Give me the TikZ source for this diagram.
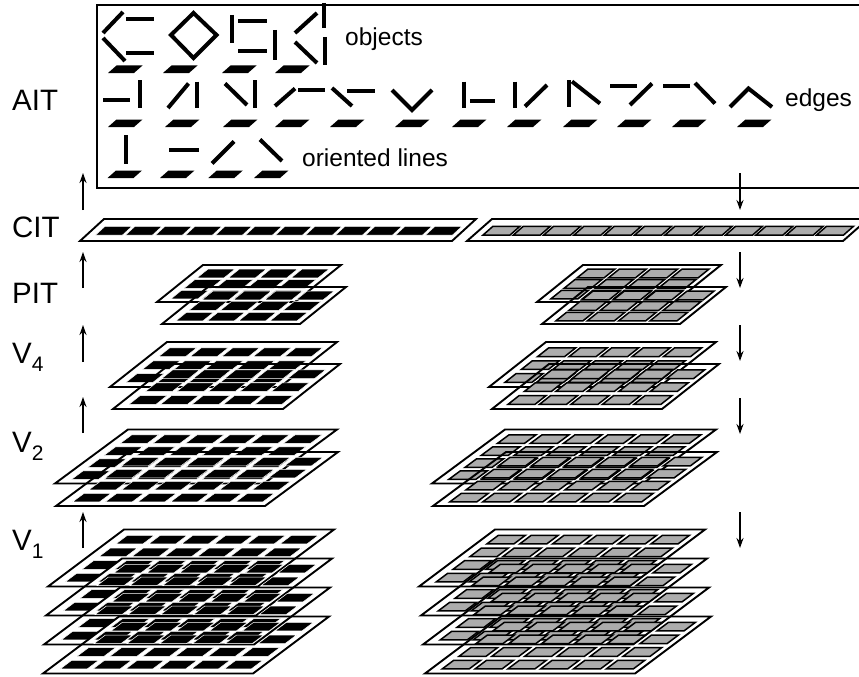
\documentclass[tikz,border=0pt]{standalone}
\usepackage{fontspec}
\setmainfont{Liberation Sans}
\usetikzlibrary{arrows.meta}
\definecolor{cellgray}{RGB}{172,172,172}
\tikzset{
  sheetline/.style={line width=1.9pt, line join=miter},
  blackcell/.style={fill=black, draw=white, line width=0.5pt},
  graycell/.style={fill=cellgray, draw=black, line width=1.5pt},
  aitline/.style={line width=4pt},
  aitcell/.style={fill=black},
  flowarrow/.style={line width=2pt, -{Stealth[length=10pt,width=7pt]}},
  lbl/.style={font=\fontsize{29.5}{31}\selectfont, anchor=base west, inner sep=0pt},
  smalllbl/.style={font=\fontsize{24.5}{26}\selectfont, anchor=base west, inner sep=0pt},
  aitbox/.style={draw, line width=1.7pt},
}
% #1 x0, #2 y0 (bottom-left), #3 W, #4 H, #5 skew, #6 rows, #7 cols, #8 cell style
\newcommand{\drawsheet}[8]{%
  \draw[sheetline] (#1,#2) -- ++(#3,0) -- ++(#5,-#4) -- ++(-#3,0) -- cycle;
  \foreach \jj in {1,...,#6}{
    \foreach \ii in {1,...,#7}{
      \pgfmathsetmacro{\vc}{(\jj-1+0.8)*#4/(#6+0.5)}
      \pgfmathsetmacro{\yc}{#2-#4+\vc}
      \pgfmathsetmacro{\xl}{#1+#5*(#4-\vc)/#4}
      \pgfmathsetmacro{\xc}{\xl+(\ii-1+0.75)*#3/(#7+0.4)}
      \pgfmathsetmacro{\cs}{8.6*#5/#4}
      \path[#8] (\xc-13.5-\cs/2,\yc+4.3) -- ++(27,0) -- ++(\cs,-8.6) -- ++(-27,0) -- cycle;
    }
  }
}
% small black cell of the AIT box, bottom-left x, bottom y
\newcommand{\aitcellat}[2]{%
  \path[aitcell] (#1,#2) -- ++(26,0) -- ++(8.5,-7.5) -- ++(-26,0) -- cycle;
}
\begin{document}
\begin{tikzpicture}[x=1pt,y=-1pt]
\useasboundingbox (0,0) rectangle (859,677);

% ---------- AIT box ----------
\draw[aitbox] (880,5) -- (97,5) -- (97,188) -- (880,188);

% objects
\draw[aitline] (103,33) -- (123,12);
\draw[aitline] (126,19) -- (154,19);
\draw[aitline] (103,38) -- (125,61);
\draw[aitline] (126,53) -- (154,53);
\draw[aitline] (171,35) -- (193.5,13) -- (216.5,35) -- (193.5,58) -- cycle;
\draw[aitline] (232,15) -- (232,43);
\draw[aitline] (238,21) -- (267,21);
\draw[aitline] (238,51) -- (267,51);
\draw[aitline] (275,30) -- (275,60);
\draw[aitline] (295,33) -- (317,13);
\draw[aitline] (323.5,3) -- (323.5,28);
\draw[aitline] (295,42) -- (317,63);
\draw[aitline] (325,37) -- (325,65);
\foreach \x in {108,163,222,275} { \aitcellat{\x}{73} }
\node[smalllbl] (objects) at (345,45.5) {objects};

% edges
\draw[aitline] (103,99.5) -- (130,99.5);
\draw[aitline] (140,80) -- (140,108);
\draw[aitline] (168,108) -- (188.5,83.5);
\draw[aitline] (197,81.5) -- (197,108);
\draw[aitline] (225,83.5) -- (247,105);
\draw[aitline] (254.5,80) -- (254.5,108);
\draw[aitline] (275,106) -- (295,88.5);
\draw[aitline] (298,90) -- (325,90);
\draw[aitline] (332,88) -- (352,106);
\draw[aitline] (347,90.5) -- (375,90.5);
\draw[aitline] (392,90) -- (412,110) -- (432,90);
\draw[aitline] (463.5,81.5) -- (463.5,108);
\draw[aitline] (470,100.5) -- (495,100.5);
\draw[aitline] (515,81.5) -- (515,108);
\draw[aitline] (525,106.5) -- (547,85);
\draw[aitline] (568.5,80) -- (568.5,106.5);
\draw[aitline] (572,81.5) -- (600,103.5);
\draw[aitline] (610,86) -- (637,86);
\draw[aitline] (630,105) -- (652,83.5);
\draw[aitline] (663,86) -- (690,86);
\draw[aitline] (695,83) -- (715,103.5);
\draw[aitline] (730,107) -- (748.5,88.5) -- (772,107);
\foreach \x in {108,165,223,275,330,395,452,507,563,617,672,737} { \aitcellat{\x}{127} }
\node[smalllbl] (edges) at (785,106) {edges};

% oriented lines
\draw[aitline] (126,135) -- (126,163.5);
\draw[aitline] (169,149.5) -- (198.5,149.5);
\draw[aitline] (212,163.5) -- (234,141.5);
\draw[aitline] (260,139.5) -- (282,161);
\foreach \x in {107.5,160,208.3,254} { \aitcellat{\x}{178} }
\node[smalllbl] (oriented) at (302,166) {oriented lines};

% ---------- labels ----------
\node[lbl] (lAIT) at (12,110) {AIT};
\node[lbl] (lCIT) at (12,237) {CIT};
\node[lbl] (lPIT) at (12,303) {PIT};
\node[lbl] (lV4) at (12,363) {V\raisebox{-8pt}{\fontsize{21}{21}\selectfont 4}};
\node[lbl] (lV2) at (12,452) {V\raisebox{-8pt}{\fontsize{21}{21}\selectfont 2}};
\node[lbl] (lV1) at (12,550) {V\raisebox{-8pt}{\fontsize{21}{21}\selectfont 1}};

% ---------- arrows ----------
\foreach \k/\a/\b in {1/210/173, 2/288/252, 3/362/325, 4/433/397, 5/548/512} {
  \coordinate (up\k s) at (83,\a);
  \coordinate (up\k e) at (83,\b);
  \draw[flowarrow] (up\k s) -- (up\k e);
}
\foreach \k/\a/\b in {1/173/210, 2/252/288, 3/325/361, 4/398/434, 5/512/548} {
  \coordinate (dn\k s) at (740,\a);
  \coordinate (dn\k e) at (740,\b);
  \draw[flowarrow] (dn\k s) -- (dn\k e);
}

% ---------- CIT ----------
\drawsheet{80}{241}{372}{22}{24}{1}{12}{blackcell}
\drawsheet{467}{241}{376}{22}{25}{1}{12}{graycell}

% ---------- PIT ----------
\drawsheet{157}{302}{138}{37}{46}{3}{4}{blackcell}
\drawsheet{162}{324}{138}{37}{46}{3}{4}{blackcell}
\drawsheet{537}{302}{138}{37}{46}{3}{4}{graycell}
\drawsheet{542}{324}{138}{37}{46}{3}{4}{graycell}

% ---------- V4 ----------
\drawsheet{110}{387}{170}{45}{57}{3}{5}{blackcell}
\drawsheet{113}{409}{170}{45}{57}{3}{5}{blackcell}
\drawsheet{489}{387}{170}{45}{57}{3}{5}{graycell}
\drawsheet{492}{409}{170}{45}{57}{3}{5}{graycell}

% ---------- V2 ----------
\drawsheet{55}{483.5}{209}{54}{73}{4}{6}{blackcell}
\drawsheet{56}{506}{209}{54}{73}{4}{6}{blackcell}
\drawsheet{432}{483.5}{211}{54}{73}{4}{6}{graycell}
\drawsheet{433}{506}{211}{54}{73}{4}{6}{graycell}

% ---------- V1 ----------
\drawsheet{48}{586.5}{210}{57}{76}{4}{6}{blackcell}
\drawsheet{46}{615.5}{210}{57}{76}{4}{6}{blackcell}
\drawsheet{44}{644.5}{210}{57}{76}{4}{6}{blackcell}
\drawsheet{43}{673.5}{210}{57}{76}{4}{6}{blackcell}
\drawsheet{419}{586.5}{210}{57}{76}{4}{6}{graycell}
\drawsheet{421}{615.5}{210}{57}{76}{4}{6}{graycell}
\drawsheet{423}{644.5}{210}{57}{76}{4}{6}{graycell}
\drawsheet{425}{673.5}{210}{57}{76}{4}{6}{graycell}
\end{tikzpicture}
\end{document}
